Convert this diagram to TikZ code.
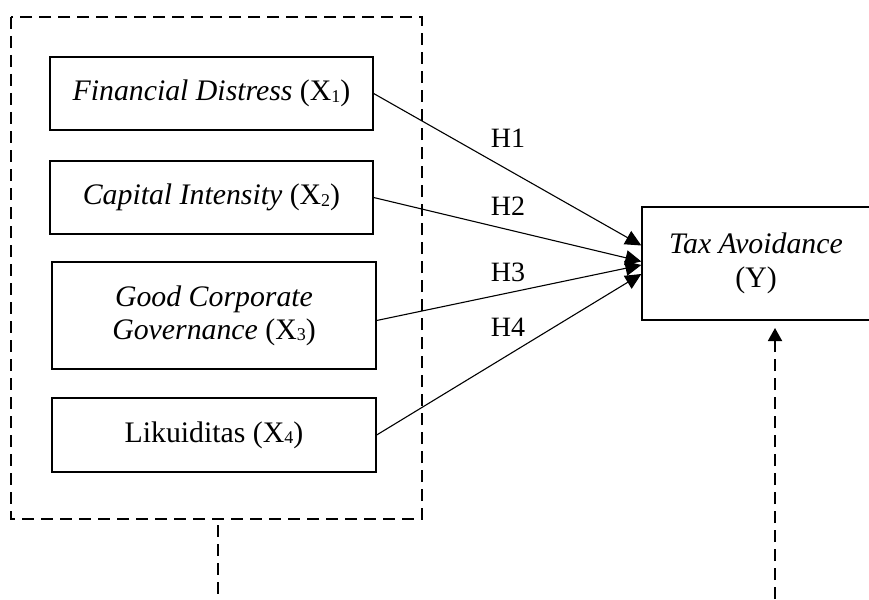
\documentclass[tikz,border=0pt]{standalone}
\usepackage{fontspec}
\setmainfont{Liberation Serif}
\usetikzlibrary{arrows.meta}
\newcommand{\sbx}[1]{\raisebox{-0.12ex}{\fontsize{18}{18}\selectfont #1}}
\begin{document}
\begin{tikzpicture}[x=1pt,y=-1pt,
  varbox/.style={draw, line width=1.3pt, align=center, inner sep=0pt},
  fnt/.style={font=\fontsize{29.8}{35}\selectfont},
  link/.style={line width=1.1pt, -{Triangle[length=16pt,width=15pt]}},
  dashline/.style={line width=1.8pt, dash pattern=on 12pt off 7pt},
  hlabel/.style={font=\fontsize{28}{34}\selectfont, inner sep=0pt}]
\useasboundingbox (0,0) rectangle (869,599);
\draw[dashline] (11,17) rectangle (422,519);
\node[varbox, fnt, minimum width=323pt, minimum height=73pt] (b1) at (211.5,93.5) {\textit{Financial Distress} (X\sbx{1})};
\node[varbox, fnt, minimum width=323pt, minimum height=73pt] (b2) at (211.5,197.5) {\textit{Capital Intensity} (X\sbx{2})};
\node[varbox, fnt, minimum width=324pt, minimum height=107pt] (b3) at (214,315.5) {\textit{Good Corporate}\\[-2pt]\textit{Governance} (X\sbx{3})};
\node[varbox, fnt, minimum width=324pt, minimum height=74pt] (b4) at (214,435) {Likuiditas (X\sbx{4})};
\node[varbox, fnt, minimum width=228pt, minimum height=113pt] (y) at (756,263.5) {\textit{Tax Avoidance}\\[-1pt](Y)};
\draw[link] (b1.east) -- ([yshift=18pt]y.west);
\draw[link] (b2.east) -- ([yshift=2pt]y.west);
\draw[link] ([yshift=-5pt]b3.east) -- ([yshift=-1.5pt]y.west);
\draw[link] (b4.east) -- ([yshift=-10.5pt]y.west);
\node[hlabel] (h1) at (508,138) {H1};
\node[hlabel] (h2) at (508,206) {H2};
\node[hlabel] (h3) at (508,272) {H3};
\node[hlabel] (h4) at (508,327) {H4};
\coordinate (l1) at (218,525);
\coordinate (l2) at (218,601);
\coordinate (r1) at (775,599);
\coordinate (r2) at (775,328);
\draw[dashline] (l1) -- (l2);
\draw[dashline, -{Triangle[length=13pt,width=14pt]}] (r1) -- (r2);
\end{tikzpicture}
\end{document}
